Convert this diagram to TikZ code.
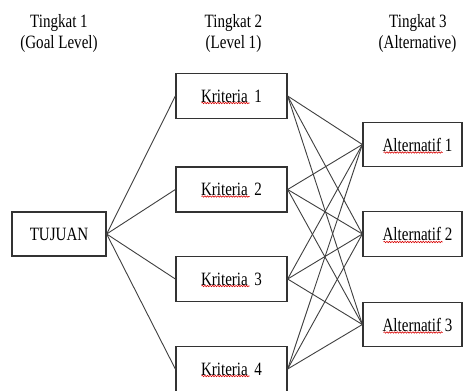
\documentclass[tikz,border=0pt]{standalone}
\usepackage{fontspec}
\setmainfont{Liberation Serif}[FakeStretch=0.8]
\usetikzlibrary{decorations.pathmorphing}
\begin{document}
\begin{tikzpicture}[x=1pt,y=-1pt,
  txt/.style={font=\fontsize{18.8}{21}\selectfont},
  box/.style={txt, draw=black!80, line width=1.3pt, fill=white, inner sep=0pt},
  kbox/.style={box, minimum width=111pt, minimum height=45pt},
  abox/.style={box, minimum width=99pt, minimum height=44.5pt},
  hdr/.style={txt, inner sep=0pt, anchor=base},
  link/.style={draw=black!75, line width=0.9pt},
  squig/.style={draw=red!85!black, line width=0.6pt, decorate,
    decoration={snake, amplitude=0.7pt, segment length=2.6pt}}]
\useasboundingbox (0,0) rectangle (464,391);
\fill[white] (0,0) rectangle (464,391);
% headers
\node[hdr] (h1a) at (59,27) {Tingkat 1};
\node[hdr] (h1b) at (59,48) {(Goal Level)};
\node[hdr] (h2a) at (233.5,27) {Tingkat 2};
\node[hdr] (h2b) at (233.5,48) {(Level 1)};
\node[hdr] (h3a) at (418,27) {Tingkat 3};
\node[hdr] (h3b) at (417.5,48) {(Alternative)};
% boxes
\node[box, minimum width=94pt, minimum height=44pt] (tuj) at (59,234) {TUJUAN};
\node[kbox] (k1) at (231.5,96) {Kriteria\hspace{0.35em}1};
\node[kbox] (k2) at (231.5,189.5) {Kriteria\hspace{0.35em}2};
\node[kbox] (k3) at (231.5,279) {Kriteria\hspace{0.35em}3};
\node[kbox] (k4) at (231.5,369) {Kriteria\hspace{0.35em}4};
\node[abox] (a1) at (412.5,144.5) {\hspace{10pt}Alternatif 1};
\node[abox] (a2) at (412.5,234) {\hspace{10pt}Alternatif 2};
\node[abox] (a3) at (412.5,324.5) {\hspace{10pt}Alternatif 3};
% connectors
\foreach \k in {k1,k2,k3,k4} {
  \draw[link] (tuj.east) -- (\k.west);
  \foreach \a in {a1,a2,a3} {
    \draw[link] (\k.east) -- (\a.west);
  }
}
% spell-check squiggles
\foreach \k in {k1,k2,k3,k4} {
  \draw[squig] ([shift={(-30,7)}]\k.center) -- ([shift={(18,7)}]\k.center);
}
\foreach \a in {a1,a2,a3} {
  \draw[squig] ([shift={(-29,8)}]\a.center) -- ([shift={(30,8)}]\a.center);
}
\end{tikzpicture}
\end{document}
